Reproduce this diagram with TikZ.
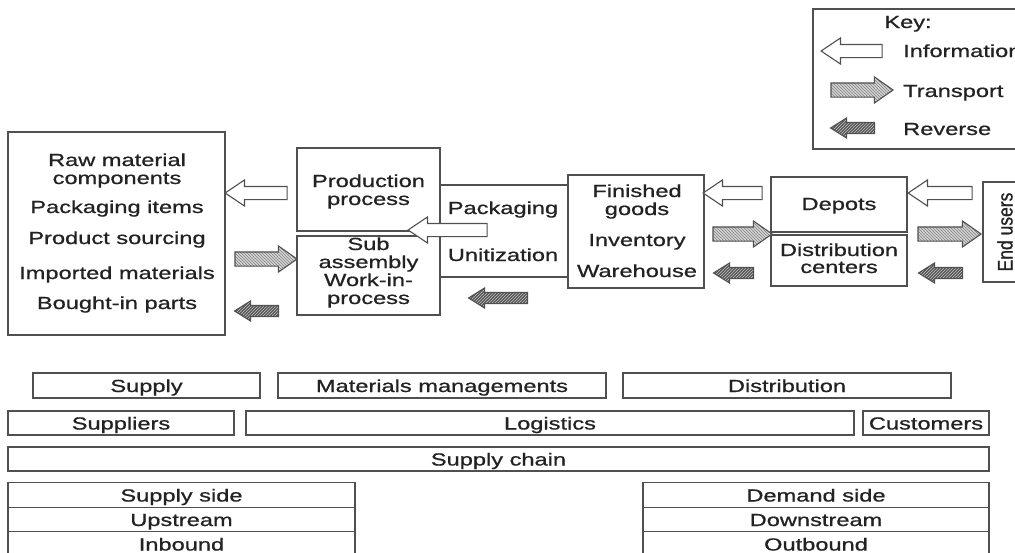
\documentclass[tikz,border=0pt]{standalone}
\usepackage{fontspec}
\setmainfont{Liberation Sans}[FakeStretch=1.35, FakeBold=0.8]
\newfontfamily\plainsans{Liberation Sans}[FakeBold=0.8]
\usetikzlibrary{shapes.arrows,patterns}
\definecolor{ink}{HTML}{222222}
\definecolor{edge}{HTML}{505050}
\definecolor{hatchlight}{HTML}{D4D4D4}
\definecolor{hatchdark}{HTML}{555555}
\tikzset{
  txt/.style={font=\fontsize{17.5}{18}\selectfont, text=ink, inner sep=0pt},
  lbl/.style={txt, anchor=base},
  box/.style={draw=edge, line width=1.4pt, txt, text height=13pt, text depth=0pt},
  blk/.style={single arrow, inner xsep=0pt, minimum width=0pt, draw=edge, line width=1.1pt},
  info/.style={blk, fill=white, inner ysep=6pt, single arrow head extend=6.5pt, single arrow tip angle=68},
  infol/.style={info, rotate=180},
  trans/.style={blk, inner ysep=6.5pt, single arrow head extend=6pt, single arrow tip angle=70,
    preaction={fill=hatchlight}, pattern=north west lines, pattern color=gray},
  rev/.style={blk, inner ysep=5pt, single arrow head extend=4.5pt, single arrow tip angle=64,
    preaction={fill=hatchdark}, pattern=north east lines, pattern color=gray!45, rotate=180},
}
\begin{document}
\begin{tikzpicture}[x=1pt,y=-1pt]
\useasboundingbox (0,0) rectangle (1015,552);
\clip (0,0) rectangle (1015,552);
\fill[white] (0,0) rectangle (1015,552);

% ---- key ----
\node[box, minimum width=227pt, minimum height=140pt] (key) at (926.5,79) {};
\node[lbl] (keyt) at (908,28) {Key:};
\node[infol, minimum height=61pt] (keyinfo) at (856.5,51) {};
\node[trans, minimum height=62pt] (keytrans) at (857,90) {};
\node[rev, minimum height=44pt] (keyrev) at (857,128) {};
\node[lbl, anchor=base west] (keyinfot) at (903,57) {Information};
\node[lbl, anchor=base west] (keytranst) at (903,97) {Transport};
\node[lbl, anchor=base west] (keyrevt) at (903,135) {Reverse};

% ---- supply side boxes ----
\node[box, minimum width=217pt, minimum height=203pt] (raw) at (116.5,233.5) {};
\node[lbl] (raw1) at (117,166) {Raw material};
\node[lbl] (raw2) at (117,184) {components};
\node[lbl] (raw3) at (117,213) {Packaging items};
\node[lbl] (raw4) at (117,244) {Product sourcing};
\node[lbl] (raw5) at (117,279) {Imported materials};
\node[lbl] (raw6) at (117,309) {Bought-in parts};

\node[box, minimum width=128pt, minimum height=92pt] (pack) at (504,231) {};
\node[lbl] (pack1) at (503,214) {Packaging};
\node[lbl] (pack2) at (503,261) {Unitization};

\node[box, minimum width=143pt, minimum height=83pt] (prod) at (368.5,189.5) {};
\node[lbl] (prod1) at (368.5,187) {Production};
\node[lbl] (prod2) at (368.5,205) {process};

\node[box, minimum width=143pt, minimum height=79pt] (sub) at (368.5,275.5) {};
\node[lbl] (sub1) at (368.5,250) {Sub};
\node[lbl] (sub2) at (368.5,268) {assembly};
\node[lbl] (sub3) at (368.5,286) {Work-in-};
\node[lbl] (sub4) at (368.5,304) {process};

% ---- demand side boxes ----
\node[box, minimum width=136pt, minimum height=113pt] (fin) at (636,231.5) {};
\node[lbl] (fin1) at (637,197) {Finished};
\node[lbl] (fin2) at (637,215) {goods};
\node[lbl] (fin3) at (637,246) {Inventory};
\node[lbl] (fin4) at (637,277) {Warehouse};

\node[box, minimum width=136pt, minimum height=55pt] (dep) at (839,204.5) {};
\node[lbl] (dep1) at (839,210) {Depots};
\node[box, minimum width=136pt, minimum height=51pt] (dc) at (839,260.5) {};
\node[lbl] (dc1) at (839,256) {Distribution};
\node[lbl] (dc2) at (839,273) {centers};

\node[box, minimum width=57pt, minimum height=100pt] (end) at (1011.5,232) {};
\node[txt, rotate=90] (endt) at (1005,232) {\plainsans\scalebox{1}[1.2]{End users}};

% ---- flows ----
\node[infol, minimum height=62pt] (i1) at (261,193) {};
\node[infol, minimum height=79pt] (i2) at (452.5,230) {};
\node[infol, minimum height=59pt] (i3) at (737.5,193) {};
\node[infol, minimum height=64pt] (i4) at (945,193) {};

\node[trans, minimum height=62pt] (t1) at (261,259) {};
\node[trans, minimum height=59pt] (t2) at (737.5,234) {};
\node[trans, minimum height=63pt] (t3) at (944.5,234) {};

\node[rev, minimum height=44pt] (r1) at (261,311) {};
\node[rev, minimum height=59pt] (r2) at (502.5,298) {};
\node[rev, minimum height=40pt] (r3) at (738,273) {};
\node[rev, minimum height=44pt] (r4) at (945,273) {};

% ---- scope bands ----
\node[box, minimum width=227pt, minimum height=25pt] (supply) at (146.5,385.5) {Supply};
\node[box, minimum width=328pt, minimum height=25pt] (matm) at (442,385.5) {Materials managements};
\node[box, minimum width=328pt, minimum height=25pt] (distr) at (787,385.5) {Distribution};

\node[box, minimum width=226pt, minimum height=24pt] (suppl) at (121,423) {Suppliers};
\node[box, minimum width=608pt, minimum height=24pt] (logi) at (550,423) {Logistics};
\node[box, minimum width=126pt, minimum height=24pt] (cust) at (926,423) {Customers};

\node[box, minimum width=981pt, minimum height=24pt] (chain) at (498.5,459) {Supply chain};

\node[box, minimum width=347pt, minimum height=24.5pt] (sside) at (181.5,495) {Supply side};
\node[box, minimum width=347pt, minimum height=24.5pt] (up) at (181.5,519.5) {Upstream};
\node[box, minimum width=347pt, minimum height=24.5pt] (inb) at (181.5,544) {Inbound};

\node[box, minimum width=346pt, minimum height=24.5pt] (dside) at (816,495) {Demand side};
\node[box, minimum width=346pt, minimum height=24.5pt] (down) at (816,519.5) {Downstream};
\node[box, minimum width=346pt, minimum height=24.5pt] (outb) at (816,544) {Outbound};
\end{tikzpicture}
\end{document}
